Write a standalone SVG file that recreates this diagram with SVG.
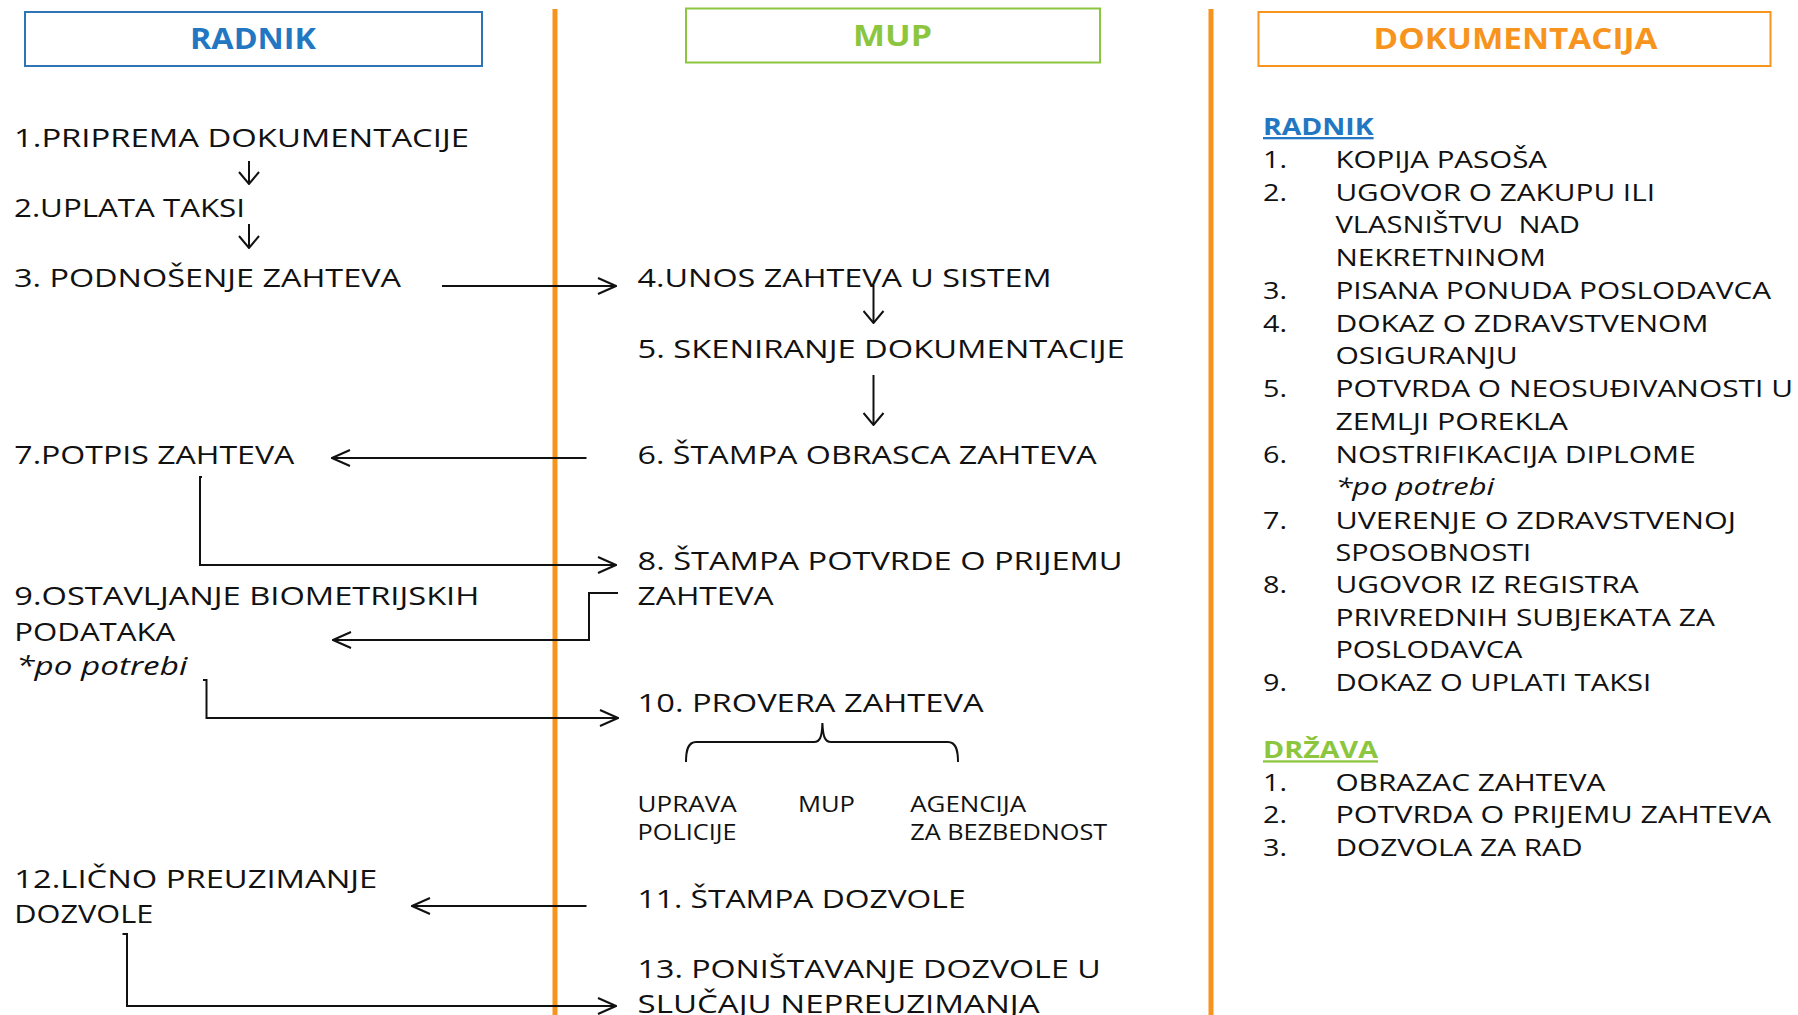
<svg xmlns="http://www.w3.org/2000/svg" width="1798" height="1015" viewBox="0 0 1798 1015">
<style>
.t{font-family:"Open Sans","Liberation Sans",sans-serif;fill:#111;}
.m{font-size:26px;}
.r{font-size:23px;}
.s{font-size:21px;}
.i{font-style:italic;}
.h{font-family:"Open Sans","Liberation Sans",sans-serif;font-weight:700;font-size:28px;}
.hs{font-family:"Open Sans","Liberation Sans",sans-serif;font-weight:700;font-size:23px;text-decoration:underline;}
.c{fill:none;stroke:#111;stroke-width:2;}
.lane{stroke:#F7941D;stroke-width:5;}
</style>
<defs>
<marker id="ah" viewBox="0 0 20 18" refX="19" refY="9" markerWidth="20" markerHeight="18" markerUnits="userSpaceOnUse" orient="auto">
<path d="M1,1 L19,9 L1,17" fill="none" stroke="#111" stroke-width="2"/>
</marker>
<marker id="av" viewBox="0 0 14 22" refX="13" refY="11" markerWidth="14" markerHeight="22" markerUnits="userSpaceOnUse" orient="auto">
<path d="M1,1 L13,11 L1,21" fill="none" stroke="#111" stroke-width="2"/>
</marker>
</defs>
<rect width="1798" height="1015" fill="#fff"/>
<g id="lanes">
<line class="lane" x1="555" y1="9" x2="555" y2="1015"/>
<line class="lane" x1="1211" y1="9" x2="1211" y2="1015"/>
</g>
<g id="header-radnik">
<rect x="25" y="12" width="457" height="54" fill="none" stroke="#2E75B6" stroke-width="2"/>
<text class="h" x="190" y="49" fill="#2377C2" textLength="126" lengthAdjust="spacingAndGlyphs">RADNIK</text>
</g>
<g id="header-mup">
<rect x="686" y="8.5" width="414" height="54" fill="none" stroke="#8CC63F" stroke-width="2"/>
<text class="h" x="853" y="46" fill="#8CC63F" textLength="79" lengthAdjust="spacingAndGlyphs">MUP</text>
</g>
<g id="header-dok">
<rect x="1258.5" y="12" width="512" height="54" fill="none" stroke="#F7941D" stroke-width="2"/>
<text class="h" x="1373.5" y="49" fill="#F7941D" textLength="284" lengthAdjust="spacingAndGlyphs">DOKUMENTACIJA</text>
</g>
<g id="connectors">
<line class="c" x1="249" y1="161" x2="249" y2="184" marker-end="url(#av)"/>
<line class="c" x1="249" y1="224" x2="249" y2="248" marker-end="url(#av)"/>
<line class="c" x1="442" y1="286" x2="616" y2="286" marker-end="url(#ah)"/>
<line class="c" x1="873.5" y1="285" x2="873.5" y2="323" marker-end="url(#av)"/>
<line class="c" x1="873.5" y1="375" x2="873.5" y2="425" marker-end="url(#av)"/>
<line class="c" x1="586.5" y1="458" x2="332" y2="458" marker-end="url(#ah)"/>
<path class="c" d="M202,477 H200 V565 H616" marker-end="url(#ah)"/>
<path class="c" d="M618,593 H589 V640 H333" marker-end="url(#ah)"/>
<path class="c" d="M203,680 H206.5 V718 H618" marker-end="url(#ah)"/>
<line class="c" x1="586.5" y1="906" x2="412" y2="906" marker-end="url(#ah)"/>
<path class="c" d="M122.5,934 H127 V1006 H616" marker-end="url(#ah)"/>
<path class="c" d="M686,762 C686,750 688,742 696,742 H814 C820,742 822,737 822.4,723 C823,737 825,742 831,742 H948 C956,742 958,750 958,762"/>
</g>
<g id="n1"><text class="t m" x="14" y="147" textLength="455" lengthAdjust="spacingAndGlyphs">1.PRIPREMA DOKUMENTACIJE</text></g>
<g id="n2"><text class="t m" x="14" y="217" textLength="231" lengthAdjust="spacingAndGlyphs">2.UPLATA TAKSI</text></g>
<g id="n3"><text class="t m" x="14" y="287" textLength="387" lengthAdjust="spacingAndGlyphs">3. PODNOŠENJE ZAHTEVA</text></g>
<g id="n4"><text class="t m" x="637.6" y="287.3" textLength="414" lengthAdjust="spacingAndGlyphs">4.UNOS ZAHTEVA U SISTEM</text></g>
<g id="n5"><text class="t m" x="637.6" y="358.3" textLength="487" lengthAdjust="spacingAndGlyphs">5. SKENIRANJE DOKUMENTACIJE</text></g>
<g id="n6"><text class="t m" x="637.6" y="464" textLength="459" lengthAdjust="spacingAndGlyphs">6. ŠTAMPA OBRASCA ZAHTEVA</text></g>
<g id="n7"><text class="t m" x="14.3" y="464" textLength="280" lengthAdjust="spacingAndGlyphs">7.POTPIS ZAHTEVA</text></g>
<g id="n8">
<text class="t m" x="637.6" y="570" textLength="485" lengthAdjust="spacingAndGlyphs">8. ŠTAMPA POTVRDE O PRIJEMU</text>
<text class="t m" x="637.6" y="605" textLength="136" lengthAdjust="spacingAndGlyphs">ZAHTEVA</text>
</g>
<g id="n9">
<text class="t m" x="14.3" y="605" textLength="465" lengthAdjust="spacingAndGlyphs">9.OSTAVLJANJE BIOMETRIJSKIH</text>
<text class="t m" x="14.3" y="640.7" textLength="161" lengthAdjust="spacingAndGlyphs">PODATAKA</text>
<text class="t m i" x="16.3" y="675" textLength="171" lengthAdjust="spacingAndGlyphs">*po potrebi</text>
</g>
<g id="n10">
<text class="t m" x="637.6" y="711.7" textLength="346" lengthAdjust="spacingAndGlyphs">10. PROVERA ZAHTEVA</text>
<text class="t s" x="637.6" y="811.7" textLength="99" lengthAdjust="spacingAndGlyphs">UPRAVA</text>
<text class="t s" x="637.6" y="840" textLength="99" lengthAdjust="spacingAndGlyphs">POLICIJE</text>
<text class="t s" x="798" y="811.7" textLength="57" lengthAdjust="spacingAndGlyphs">MUP</text>
<text class="t s" x="910.2" y="811.7" textLength="116" lengthAdjust="spacingAndGlyphs">AGENCIJA</text>
<text class="t s" x="910.2" y="840" textLength="197" lengthAdjust="spacingAndGlyphs">ZA BEZBEDNOST</text>
</g>
<g id="n11"><text class="t m" x="637.6" y="908.3" textLength="328" lengthAdjust="spacingAndGlyphs">11. ŠTAMPA DOZVOLE</text></g>
<g id="n12">
<text class="t m" x="14.3" y="888.3" textLength="363" lengthAdjust="spacingAndGlyphs">12.LIČNO PREUZIMANJE</text>
<text class="t m" x="14.3" y="923.3" textLength="139" lengthAdjust="spacingAndGlyphs">DOZVOLE</text>
</g>
<g id="n13">
<text class="t m" x="637.6" y="978.3" textLength="463" lengthAdjust="spacingAndGlyphs">13. PONIŠTAVANJE DOZVOLE U</text>
<text class="t m" x="637.6" y="1013.3" textLength="402" lengthAdjust="spacingAndGlyphs">SLUČAJU NEPREUZIMANJA</text>
</g>
<g id="doc-radnik">
<text class="hs" x="1263" y="135" fill="#2377C2" textLength="110.6" lengthAdjust="spacingAndGlyphs">RADNIK</text>
<text class="t r" x="1263" y="168.3" textLength="24" lengthAdjust="spacingAndGlyphs">1.</text>
<text class="t r" x="1335.4" y="168.3" textLength="211.6" lengthAdjust="spacingAndGlyphs">KOPIJA PASOŠA</text>
<text class="t r" x="1263" y="201" textLength="24" lengthAdjust="spacingAndGlyphs">2.</text>
<text class="t r" x="1335.4" y="201" textLength="319.6" lengthAdjust="spacingAndGlyphs">UGOVOR O ZAKUPU ILI</text>
<text class="t r" x="1335.4" y="233.3" textLength="244.6" lengthAdjust="spacingAndGlyphs" style="white-space:pre">VLASNIŠTVU  NAD</text>
<text class="t r" x="1335.4" y="265.7" textLength="210.6" lengthAdjust="spacingAndGlyphs">NEKRETNINOM</text>
<text class="t r" x="1263" y="299" textLength="24" lengthAdjust="spacingAndGlyphs">3.</text>
<text class="t r" x="1335.4" y="299" textLength="435.6" lengthAdjust="spacingAndGlyphs">PISANA PONUDA POSLODAVCA</text>
<text class="t r" x="1263" y="331.7" textLength="24" lengthAdjust="spacingAndGlyphs">4.</text>
<text class="t r" x="1335.4" y="331.7" textLength="373" lengthAdjust="spacingAndGlyphs">DOKAZ O ZDRAVSTVENOM</text>
<text class="t r" x="1335.4" y="364" textLength="182.3" lengthAdjust="spacingAndGlyphs">OSIGURANJU</text>
<text class="t r" x="1263" y="397.3" textLength="24" lengthAdjust="spacingAndGlyphs">5.</text>
<text class="t r" x="1335.4" y="397.3" textLength="457.6" lengthAdjust="spacingAndGlyphs">POTVRDA O NEOSUĐIVANOSTI U</text>
<text class="t r" x="1335.4" y="430" textLength="232.6" lengthAdjust="spacingAndGlyphs">ZEMLJI POREKLA</text>
<text class="t r" x="1263" y="462.7" textLength="24" lengthAdjust="spacingAndGlyphs">6.</text>
<text class="t r" x="1335.4" y="462.7" textLength="360.4" lengthAdjust="spacingAndGlyphs">NOSTRIFIKACIJA DIPLOME</text>
<text class="t r i" x="1335.4" y="495" textLength="159" lengthAdjust="spacingAndGlyphs">*po potrebi</text>
<text class="t r" x="1263" y="529" textLength="24" lengthAdjust="spacingAndGlyphs">7.</text>
<text class="t r" x="1335.4" y="529" textLength="400.5" lengthAdjust="spacingAndGlyphs">UVERENJE O ZDRAVSTVENOJ</text>
<text class="t r" x="1335.4" y="561" textLength="195.6" lengthAdjust="spacingAndGlyphs">SPOSOBNOSTI</text>
<text class="t r" x="1263" y="593.3" textLength="24" lengthAdjust="spacingAndGlyphs">8.</text>
<text class="t r" x="1335.4" y="593.3" textLength="303.2" lengthAdjust="spacingAndGlyphs">UGOVOR IZ REGISTRA</text>
<text class="t r" x="1335.4" y="626" textLength="379.5" lengthAdjust="spacingAndGlyphs">PRIVREDNIH SUBJEKATA ZA</text>
<text class="t r" x="1335.4" y="658.3" textLength="186.9" lengthAdjust="spacingAndGlyphs">POSLODAVCA</text>
<text class="t r" x="1263" y="690.7" textLength="24" lengthAdjust="spacingAndGlyphs">9.</text>
<text class="t r" x="1335.4" y="690.7" textLength="315.8" lengthAdjust="spacingAndGlyphs">DOKAZ O UPLATI TAKSI</text>
</g>
<g id="doc-drzava">
<text class="hs" x="1263" y="758.3" fill="#8CC63F" textLength="115" lengthAdjust="spacingAndGlyphs">DRŽAVA</text>
<text class="t r" x="1263" y="790.7" textLength="24" lengthAdjust="spacingAndGlyphs">1.</text>
<text class="t r" x="1335.4" y="790.7" textLength="270" lengthAdjust="spacingAndGlyphs">OBRAZAC ZAHTEVA</text>
<text class="t r" x="1263" y="823.3" textLength="24" lengthAdjust="spacingAndGlyphs">2.</text>
<text class="t r" x="1335.4" y="823.3" textLength="435.6" lengthAdjust="spacingAndGlyphs">POTVRDA O PRIJEMU ZAHTEVA</text>
<text class="t r" x="1263" y="856" textLength="24" lengthAdjust="spacingAndGlyphs">3.</text>
<text class="t r" x="1335.4" y="856" textLength="247.1" lengthAdjust="spacingAndGlyphs">DOZVOLA ZA RAD</text>
</g>
</svg>
